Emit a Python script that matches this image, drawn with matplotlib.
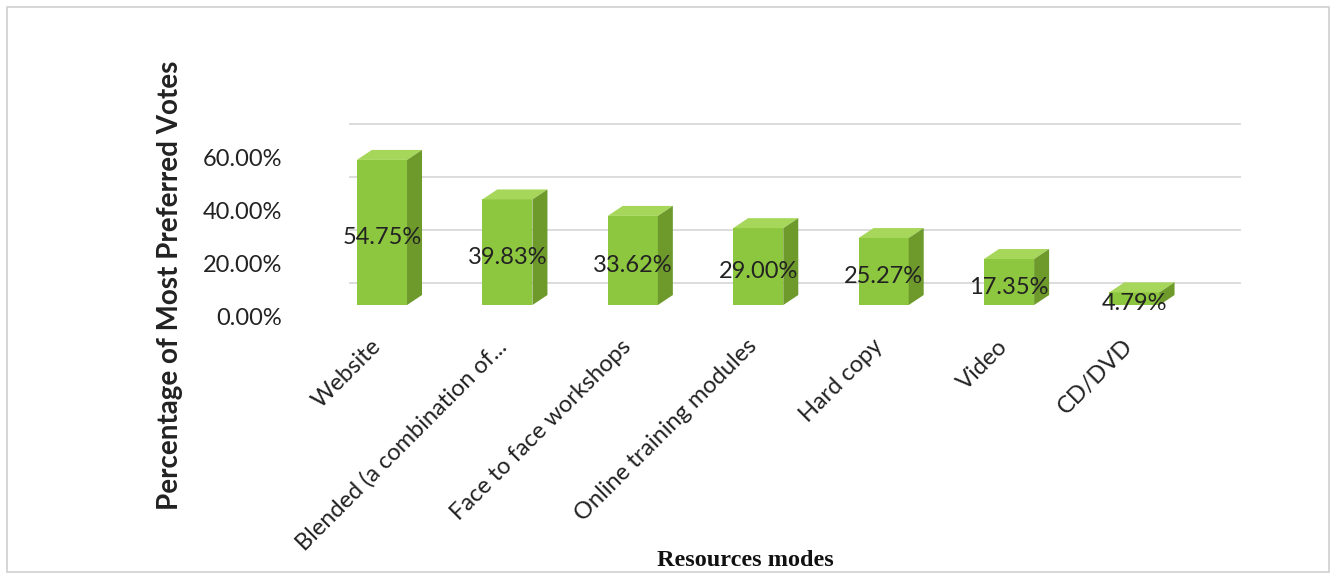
import matplotlib
matplotlib.use("Agg")
import matplotlib.pyplot as plt
from matplotlib.patches import Polygon, Rectangle
from matplotlib.transforms import ScaledTranslation

# data
categories = ["Website", "Blended (a combination of...", "Face to face workshops",
              "Online training modules", "Hard copy", "Video", "CD/DVD"]
values = [0.5475, 0.3983, 0.3362, 0.2900, 0.2527, 0.1735, 0.0479]
y_ticks = [0.0, 0.2, 0.4, 0.6]

FRONT = "#8dc63f"
TOP = "#a6d75b"
SIDE = "#6d9a2b"
TXT = "#222222"
FONT = "Lato"

fig = plt.figure(figsize=(13.36, 5.79), dpi=100)
fig.patches.append(Rectangle((0.005, 0.012), 0.99, 0.976, transform=fig.transFigure,
                             fill=False, edgecolor="#d0d0d0", lw=1.2))

ax = fig.add_axes([0.238, 0.4732, 0.69, 0.3204])
ax.set_xlim(-0.51, 6.84)
ax.set_ylim(0, 0.70)
for s in ax.spines.values():
    s.set_visible(False)

# back wall gridlines (shifted for depth)
grid_shift = ScaledTranslation(32 / 100, 22 / 100, fig.dpi_scale_trans)
for t in y_ticks:
    ax.plot([0, 0.965], [t, t], color="#d9d9d9", lw=1.3, zorder=0, clip_on=False,
            transform=ax.get_yaxis_transform() + grid_shift)

w = 0.4
x = list(range(len(categories)))
ax.bar(x, values, width=w, color=FRONT, edgecolor="none", zorder=3)

# fake 3d depth: convert pixel offsets to data units
p0 = ax.transData.transform((0, 0))
p1 = ax.transData.transform((1, 1))
ddx = 15 / (p1[0] - p0[0])
ddy = 10 / (p1[1] - p0[1])
for xi, v in zip(x, values):
    xl, xr = xi - w / 2, xi + w / 2
    ax.add_patch(Polygon([(xl, v), (xr, v), (xr + ddx, v + ddy), (xl + ddx, v + ddy)],
                         closed=True, facecolor=TOP, edgecolor="none", zorder=3))
    ax.add_patch(Polygon([(xr, 0), (xr + ddx, ddy), (xr + ddx, v + ddy), (xr, v)],
                         closed=True, facecolor=SIDE, edgecolor="none", zorder=3))
    ax.text(xi, v / 2, f"{v * 100:.2f}%", ha="center", va="center",
            fontsize=17, family=FONT, color=TXT, zorder=4,
            transform=ax.transData + ScaledTranslation(0, -5 / 100, fig.dpi_scale_trans))

ax.set_yticks(y_ticks)
ax.set_yticklabels([f"{t * 100:.2f}%" for t in y_ticks], fontsize=17, family=FONT, color=TXT)
ax.tick_params(axis="y", length=0, pad=26)
for lab in ax.get_yticklabels():
    lab.set_transform(lab.get_transform() + ScaledTranslation(0, -11 / 100, fig.dpi_scale_trans))

ax.set_xticks(x)
ax.set_xticklabels(categories, rotation=45, ha="right", rotation_mode="anchor",
                   fontsize=17, family=FONT, color=TXT)
ax.tick_params(axis="x", length=0, pad=22)
for lab in ax.get_xticklabels():
    lab.set_transform(lab.get_transform() + ScaledTranslation(-12 / 100, 0, fig.dpi_scale_trans))

fig.text(0.127, 0.508, "Percentage of Most Preferred Votes", rotation=90,
         ha="center", va="center", fontsize=20, fontweight="bold", family=FONT, color=TXT)
fig.text(0.558, 0.032, "Resources modes", ha="center", va="center",
         fontsize=17.5, fontweight="bold", family="Liberation Serif", color="#111111")

fig.savefig("out.png", dpi=100)
